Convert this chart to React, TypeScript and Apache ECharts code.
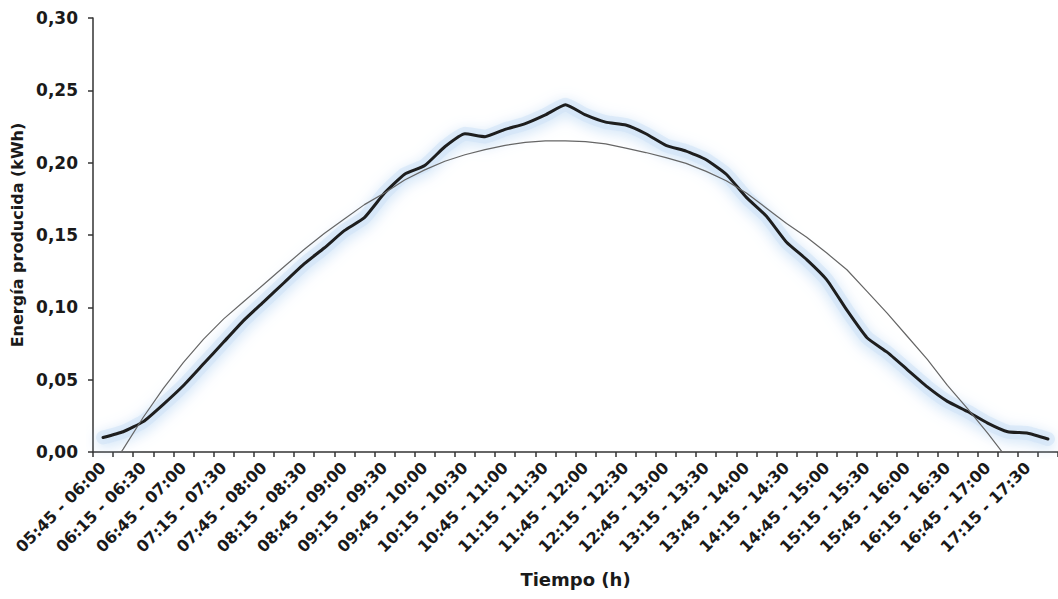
import React, { useEffect, useRef } from "react";
import * as echarts from "echarts";

const categories = [
  "05:45 - 06:00", "06:00 - 06:15", "06:15 - 06:30", "06:30 - 06:45",
  "06:45 - 07:00", "07:00 - 07:15", "07:15 - 07:30", "07:30 - 07:45",
  "07:45 - 08:00", "08:00 - 08:15", "08:15 - 08:30", "08:30 - 08:45",
  "08:45 - 09:00", "09:00 - 09:15", "09:15 - 09:30", "09:30 - 09:45",
  "09:45 - 10:00", "10:00 - 10:15", "10:15 - 10:30", "10:30 - 10:45",
  "10:45 - 11:00", "11:00 - 11:15", "11:15 - 11:30", "11:30 - 11:45",
  "11:45 - 12:00", "12:00 - 12:15", "12:15 - 12:30", "12:30 - 12:45",
  "12:45 - 13:00", "13:00 - 13:15", "13:15 - 13:30", "13:30 - 13:45",
  "13:45 - 14:00", "14:00 - 14:15", "14:15 - 14:30", "14:30 - 14:45",
  "14:45 - 15:00", "15:00 - 15:15", "15:15 - 15:30", "15:30 - 15:45",
  "15:45 - 16:00", "16:00 - 16:15", "16:15 - 16:30", "16:30 - 16:45",
  "16:45 - 17:00", "17:00 - 17:15", "17:15 - 17:30", "17:30 - 17:45",
];

// Measured energy (thick black line)
const measured = [
  0.010, 0.014, 0.021, 0.033, 0.046, 0.061, 0.076, 0.091, 0.104, 0.117,
  0.130, 0.141, 0.153, 0.162, 0.179, 0.192, 0.198, 0.211, 0.220, 0.218,
  0.223, 0.227, 0.233, 0.240, 0.233, 0.228, 0.226, 0.220, 0.212, 0.208,
  0.202, 0.192, 0.176, 0.163, 0.145, 0.133, 0.119, 0.098, 0.079, 0.069,
  0.057, 0.045, 0.035, 0.028, 0.020, 0.014, 0.013, 0.009,
];

// Fitted / theoretical curve (thin grey line), clipped at zero
const fitted = [
  -0.019, 0.002, 0.024, 0.044, 0.062, 0.078, 0.092, 0.104, 0.116, 0.128,
  0.140, 0.151, 0.161, 0.171, 0.179, 0.188, 0.195, 0.201, 0.2055, 0.209,
  0.212, 0.214, 0.215, 0.215, 0.2145, 0.213, 0.210, 0.207, 0.2035, 0.1995,
  0.194, 0.1875, 0.179, 0.1685, 0.158, 0.1485, 0.1375, 0.126, 0.111, 0.096,
  0.080, 0.064, 0.046, 0.030, 0.013, -0.005, null, null,
];

const yTicks = { min: 0, max: 0.3, interval: 0.05 };

const FONT = "'DejaVu Sans', 'Liberation Sans', Arial, sans-serif";
const TEXT = "#1a1a1a";

export default function App() {
  const ref = useRef<HTMLDivElement>(null);
  useEffect(() => {
    document.body.style.margin = "0";
    const chart = echarts.init(ref.current!, null, { renderer: "svg" });
    chart.setOption({
      animation: false,
      backgroundColor: "#ffffff",
      grid: { left: 93, top: 18, bottom: 147, width: 972, containLabel: false },
      xAxis: {
        type: "category",
        data: categories,
        boundaryGap: true,
        name: "Tiempo (h)",
        nameLocation: "middle",
        nameGap: 118,
        nameTextStyle: { fontFamily: FONT, fontWeight: "bold", fontSize: 18, color: TEXT },
        axisLine: { lineStyle: { color: "#333", width: 1.5 } },
        axisTick: { show: true, interval: 0, length: 5, lineStyle: { color: "#333", width: 1.5 } },
        axisLabel: {
          interval: 1,
          rotate: 45,
          margin: 13,
          fontFamily: FONT,
          fontWeight: "bold",
          fontSize: 16,
          color: TEXT,
        },
        splitLine: { show: false },
      },
      yAxis: {
        type: "value",
        min: yTicks.min,
        max: yTicks.max,
        interval: yTicks.interval,
        name: "Energía producida (kWh)",
        nameLocation: "middle",
        nameGap: 67,
        nameTextStyle: { fontFamily: FONT, fontWeight: "bold", fontSize: 16, color: TEXT },
        axisLine: { show: true, lineStyle: { color: "#333", width: 1.5 } },
        axisTick: { show: true, length: 5, lineStyle: { color: "#333", width: 1.5 } },
        axisLabel: {
          margin: 15,
          fontFamily: FONT,
          fontWeight: "bold",
          fontSize: 17,
          color: TEXT,
          formatter: (v: number) => v.toFixed(2).replace(".", ","),
        },
        splitLine: { show: false },
      },
      series: [
        {
          name: "glow",
          type: "line",
          data: measured,
          symbol: "none",
          smooth: 0.15,
          silent: true,
          z: 1,
          lineStyle: {
            color: "rgba(205,226,245,0.55)",
            width: 14,
            join: "round",
            cap: "round",
            shadowColor: "rgba(160,200,240,0.9)",
            shadowBlur: 14,
            shadowOffsetY: 3,
          },
        },
        {
          type: "line",
          data: fitted,
          symbol: "none",
          clip: true,
          z: 3,
          lineStyle: { color: "#666", width: 1.2 },
        },
        {
          type: "line",
          data: measured,
          symbol: "none",
          smooth: 0.15,
          clip: true,
          z: 2,
          lineStyle: {
            color: "#1e1e1e",
            width: 3,
            join: "round",
            cap: "round",
          },
        },
      ],
    });
    return () => chart.dispose();
  }, []);
  return <div ref={ref} style={{ width: 1058, height: 599 }} />;
}
